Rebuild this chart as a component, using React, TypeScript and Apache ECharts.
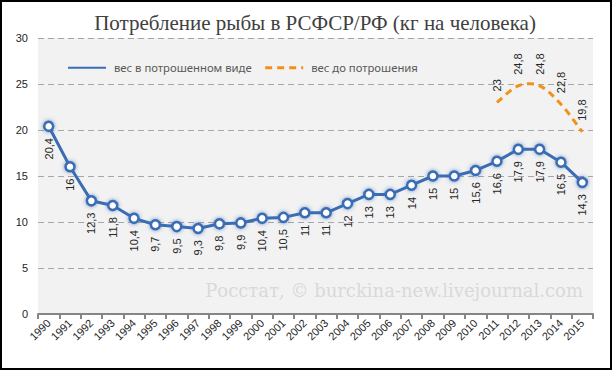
import React, { useEffect, useRef } from "react";
import * as echarts from "echarts";

const years = ["1990","1991","1992","1993","1994","1995","1996","1997","1998","1999","2000","2001","2002","2003","2004","2005","2006","2007","2008","2009","2010","2011","2012","2013","2014","2015"];
const gutted = [20.4,16,12.3,11.8,10.4,9.7,9.5,9.3,9.8,9.9,10.4,10.5,11,11,12,13,13,14,15,15,15.6,16.6,17.9,17.9,16.5,14.3];
const whole = [null,null,null,null,null,null,null,null,null,null,null,null,null,null,null,null,null,null,null,null,null,23,24.8,24.8,22.8,19.8];
const yTicks = { min: 0, max: 30, interval: 5 };
const titleText = "Потребление рыбы в РСФСР/РФ (кг на человека)";
const seriesNames = ["вес в потрошенном виде", "вес до потрошения"];
const watermark = "Росстат, © burckina-new.livejournal.com";

const BLUE = "#3a6db4";
const ORANGE = "#f39019";

const fmt = (v: number) => String(v).replace(".", ",");

const wholePoints = whole
  .map((v, i) => (v == null ? null : [i, v]))
  .filter((d) => d != null) as number[][];

export default function App() {
  const ref = useRef<HTMLDivElement>(null);
  useEffect(() => {
    document.body.style.margin = "0";
    const chart = echarts.init(ref.current!, null, { renderer: "svg" });
    chart.setOption({
      animation: false,
      backgroundColor: "#ffffff",
      title: {
        text: titleText,
        left: 310,
        textAlign: "center",
        top: 7,
        textStyle: { fontFamily: "Liberation Serif", fontWeight: "normal", fontSize: 21, color: "#404040" },
      },
      legend: {
        left: 62,
        top: 57,
        itemWidth: 38,
        itemHeight: 12,
        itemGap: 12,
        data: [
          { name: seriesNames[0] },
          { name: seriesNames[1], lineStyle: { opacity: 1, color: ORANGE, width: 3, type: [7, 5] } },
        ],
        itemStyle: { opacity: 0 },
        textStyle: { fontFamily: "Noto Sans", fontSize: 11.3, color: "#595959", padding: [0, 0, 0, 3] },
      },
      grid: {
        left: 38, right: 19, top: 38, bottom: 56,
        show: true, backgroundColor: "#f2f2f2", borderWidth: 0,
      },
      xAxis: {
        type: "category",
        data: years,
        boundaryGap: true,
        axisLine: { lineStyle: { color: "#868686", width: 2 } },
        axisTick: { show: true, length: 5, lineStyle: { color: "#868686", width: 2 } },
        axisLabel: { rotate: 45, fontSize: 11, color: "#262626", margin: 7, fontFamily: "Liberation Sans", interval: 0 },
      },
      yAxis: {
        type: "value",
        min: yTicks.min, max: yTicks.max, interval: yTicks.interval,
        axisLine: { show: false },
        axisTick: { show: false },
        splitLine: { lineStyle: { color: "#a6a6a6", type: [6, 4], width: 1 } },
        axisLabel: { fontSize: 11, color: "#262626", margin: 10, fontFamily: "Liberation Sans" },
      },
      graphic: [
        {
          type: "text", right: 29, top: 281, z: 0,
          style: { text: watermark, fill: "#d9d9d9", font: "18px 'DejaVu Serif'" },
        },
        {
          type: "rect", shape: { x: 1, y: 1, width: 610, height: 368 },
          style: { fill: "none", stroke: "#000", lineWidth: 2 }, z: 100,
        },
      ],
      series: [
        {
          name: seriesNames[0],
          type: "line",
          data: gutted,
          z: 3,
          symbol: "circle",
          symbolSize: 9,
          lineStyle: { color: BLUE, width: 3 },
          itemStyle: { color: "#ffffff", borderColor: BLUE, borderWidth: 2.5, shadowBlur: 4, shadowColor: "rgba(58,109,180,0.7)" },
          color: BLUE,
          label: {
            show: true, position: "bottom", distance: 6, rotate: 90, align: "right", verticalAlign: "middle",
            fontSize: 11, color: "#262626", fontFamily: "Liberation Sans",
            formatter: (p: any) => fmt(p.value),
          },
        },
        {
          name: seriesNames[1],
          type: "line",
          data: whole,
          symbol: "circle",
          symbolSize: 2,
          color: ORANGE,
          itemStyle: { color: "rgba(0,0,0,0)", borderWidth: 0 },
          lineStyle: { color: ORANGE, width: 3, type: [7, 5], opacity: 0 },
          label: {
            show: true, position: "top", distance: 10, rotate: 90, align: "left", verticalAlign: "middle",
            fontSize: 11, color: "#262626", fontFamily: "Liberation Sans",
            formatter: (p: any) => fmt(p.value),
          },
        },
        {
          name: "curve",
          type: "custom",
          data: wholePoints,
          encode: { x: 0, y: 1 },
          z: 2,
          renderItem: (params: any, api: any) => {
            if (params.dataIndex !== 0) return null;
            const pts = wholePoints.map((d) => api.coord(d));
            let d = `M${pts[0][0]},${pts[0][1]}`;
            for (let i = 0; i < pts.length - 1; i++) {
              const p0 = pts[Math.max(0, i - 1)];
              const p1 = pts[i];
              const p2 = pts[i + 1];
              const p3 = pts[Math.min(pts.length - 1, i + 2)];
              const c1x = p1[0] + (p2[0] - p0[0]) / 6;
              const c1y = p1[1] + (p2[1] - p0[1]) / 6;
              const c2x = p2[0] - (p3[0] - p1[0]) / 6;
              const c2y = p2[1] - (p3[1] - p1[1]) / 6;
              d += ` C${c1x},${c1y} ${c2x},${c2y} ${p2[0]},${p2[1]}`;
            }
            return {
              type: "path",
              shape: { pathData: d },
              style: { fill: "none", stroke: ORANGE, lineWidth: 3, lineDash: [7, 5] },
            };
          },
        },
      ],
    });
    return () => chart.dispose();
  }, []);
  return <div ref={ref} style={{ width: 612, height: 370 }} />;
}
